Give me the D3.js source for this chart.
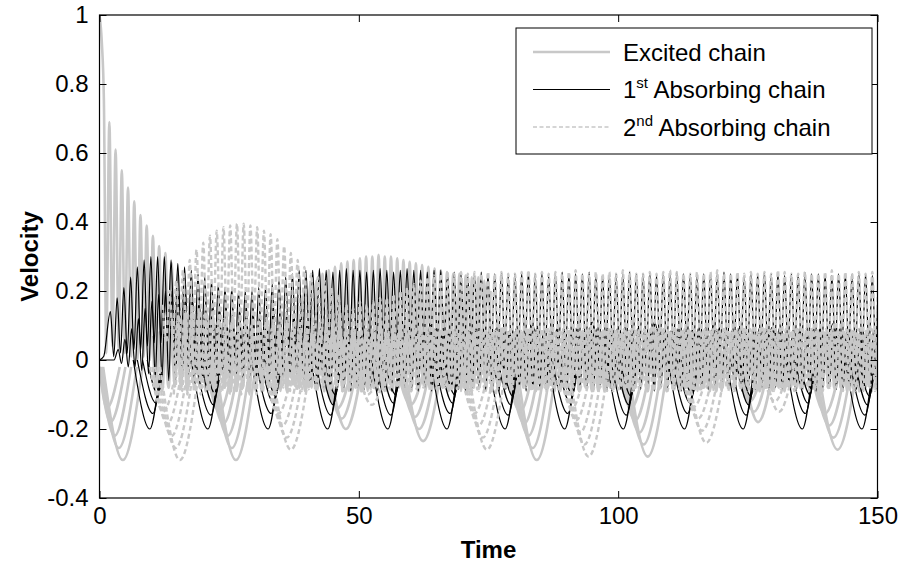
<!DOCTYPE html>
<html>
<head>
<meta charset="utf-8">
<script src="https://cdn.jsdelivr.net/npm/d3@7"></script>
<style>
body { margin: 0; background: #fff; }
svg text { font-family: Arial, "Liberation Sans", Helvetica, sans-serif; fill: #000; }
</style>
</head>
<body>
<svg id="chart" width="902" height="569"></svg>
<script>
// =========
// Data
// =========

var x_domain = [0, 150];
var y_domain = [-0.4, 1];
var x_ticks = [0, 50, 100, 150];
var y_ticks = [-0.4, -0.2, 0, 0.2, 0.4, 0.6, 0.8, 1];
var legend_labels = [['Excited chain', '', ''], ['1', 'st', ' Absorbing chain'], ['2', 'nd', ' Absorbing chain']];

// fast oscillations: turning points, start time t0, spacing dt

// excited chain, driven mass
var ex_a_head = [[0, 1.0], [0.45, 0.92], [0.85, 0.75]];
var ex_a_t0 = 1.3, ex_a_dt = 0.6;
var ex_a = [
 .02,.69,.04,.61,.03,.55,.02,.50,.01,.46,
 0,.42,.01,.39,0,.36,-.01,.33,0,.31,
 .01,.28,0,.25,-.02,.22,-.03,.19,-.04,.16,
 -.05,.14,-.06,.12,-.07,.10,-.07,.09,-.08,.08,
 -.08,.08,-.09,.07,-.08,.08,-.10,.07,-.09,.08,
 -.09,.06,-.08,.07,-.10,.08,-.09,.07,-.08,.08,
 -.07,.09,-.08,.08,-.09,.07,-.08,.06,-.07,.08,
 -.08,.09,-.07,.08,-.06,.07,-.08,.08,-.09,.07,
 -.08,.06,-.07,.08,-.09,.09,-.08,.07,-.07,.08,
 -.09,.08,-.08,.07,-.07,.06,-.08,.08,-.09,.09,
 -.08,.07,-.07,.08,-.08,.09,-.09,.08,-.07,.07,
 -.06,.08,-.08,.09,-.09,.07,-.08,.06,-.07,.08,
 -.08,.08,-.09,.07,-.08,.08,-.07,.09,-.08,.07,
 -.09,.06,-.08,.08,-.07,.07,-.08,.08,-.09,.09,
 -.07,.08,-.06,.07,-.08,.09,-.09,.08,-.08,.06,
 -.08,.07,-.09,.08,-.07,.08,-.08,.07,-.09,.08,
 -.09,.09,-.08,.06,-.07,.08,-.08,.09,-.06,.07,
 -.08,.08,-.07,.07,-.09,.08,-.08,.06,-.08,.09,
 -.07,.07,-.08,.09,-.09,.07,-.07,.08,-.08,.08,
 -.09,.08,-.08,.07,-.06,.08,-.09,.09,-.08,.07,
 -.08,.06,-.09,.08,-.08,.09,-.07,.07,-.08,.08,
 -.07,.08,-.08,.07,-.09,.06,-.08,.08,-.07,.09,
 -.08,.09,-.07,.08,-.08,.07,-.09,.08,-.08,.06,
 -.09,.07,-.08,.08,-.07,.09,-.08,.07,-.09,.08,
 -.08,.08,-.07,.06,-.08,.08,-.09,.07,-.08,.09
];

// excited chain, other masses (band round zero)
var ex_band_t0 = 10.3, ex_band_dt = 0.6;
var ex_band = [
 .07,-.08,.08,-.09,.07,-.08,.09,-.07,.08,-.08,
 .06,-.09,.08,-.07,.07,-.08,.08,-.09,.09,-.08,
 .08,-.07,.07,-.08,.09,-.09,.08,-.08,.07,-.06,
 .08,-.08,.09,-.07,.08,-.09,.07,-.08,.06,-.07,
 .09,-.08,.07,-.09,.08,-.07,.08,-.08,.09,-.09,
 .07,-.07,.08,-.08,.06,-.09,.08,-.08,.07,-.08,
 .08,-.09,.09,-.08,.07,-.07,.08,-.09,.08,-.08,
 .07,-.08,.06,-.07,.08,-.08,.09,-.09,.07,-.08,
 .08,-.07,.08,-.09,.07,-.08,.08,-.07,.09,-.08,
 .09,-.08,.07,-.08,.08,-.09,.06,-.08,.08,-.07,
 .08,-.09,.08,-.08,.09,-.07,.07,-.08,.08,-.09,
 .07,-.08,.09,-.08,.08,-.09,.08,-.07,.07,-.08,
 .08,-.07,.07,-.09,.09,-.08,.08,-.08,.06,-.09,
 .09,-.08,.08,-.07,.07,-.08,.09,-.09,.08,-.08,
 .07,-.09,.08,-.08,.08,-.07,.07,-.08,.09,-.08,
 .08,-.08,.06,-.09,.08,-.08,.09,-.07,.08,-.09,
 .09,-.07,.08,-.08,.07,-.09,.08,-.08,.07,-.08,
 .08,-.08,.09,-.09,.08,-.07,.07,-.08,.08,-.09,
 .07,-.09,.08,-.08,.09,-.08,.08,-.07,.09,-.08,
 .08,-.08,.07,-.07,.08,-.09,.09,-.08,.07,-.08,
 .09,-.07,.08,-.09,.07,-.08,.08,-.08,.08,-.07,
 .08,-.08,.09,-.08,.08,-.09,.07,-.07,.09,-.08,
 .07,-.08,.08,-.07,.09,-.08,.08,-.09,.08,-.08,
 .08,-.09,.07,-.08,.08,-.08,.09,-.07,.07,-.08
];

// excited chain, hump round t = 55
var ex_hump_t0 = 38.2, ex_hump_dt = 0.6;
var ex_hump = [
 .18,-.03,.20,-.03,.22,-.02,.23,-.03,.25,-.02,
 .26,-.02,.27,-.03,.28,-.02,.285,-.02,.29,-.03,
 .295,-.02,.30,-.02,.30,-.03,.305,-.02,.30,-.02,
 .30,-.03,.295,-.02,.29,-.03,.285,-.02,.28,-.03,
 .275,-.02,.27,-.03,.265,-.02,.26,-.03,.255,-.02,
 .25,-.03,.25,-.02,.245,-.03,.24,-.02,.24,-.03,
 .23,-.02,.20
];

// 1st absorbing chain, top envelope
var abs1_top_head = [[0, 0], [0.8, 0.01]];
var abs1_top_t0 = 2.1, abs1_top_dt = 0.65;
var abs1_top = [
 .14,.01,.18,.02,.21,.02,.24,.03,.27,.03,
 .29,.04,.30,.05,.30,.05,.30,.06,.29,.05,
 .28,.04,.27,.04,.26,.03,.25,.02,.24,.02,
 .23,.01,.22,.01,.21,0,.21,0,.20,.01,
 .20,.01,.20,0,.21,.01,.21,.01,.22,.02,
 .23,.03,.24,.04,.25,.04,.26,.05,.26,.05,
 .26,.05,.265,.04,.26,.06,.255,.05,.26,.05,
 .265,.04,.26,.05,.26,.06,.255,.05,.26,.04,
 .265,.05,.26,.05,.255,.06,.26,.05,.265,.05,
 .26,.04,.26,.05,.255,.05,.26,.06,.26,.05,
 .25,.03,.255,.02,.25,.03,.245,.04,.25,.03,
 .255,.03,.25,.02,.25,.03,.255,.03,.245,.02,
 .25,.03,.25,.04,.255,.03,.25,.02,.25,.03,
 .245,.03,.25,.03,.255,.02,.25,.03,.25,.04,
 .25,.02,.255,.03,.25,.03,.245,.03,.25,.02,
 .25,.03,.25,.03,.255,.04,.25,.03,.25,.02,
 .255,.03,.245,.03,.25,.02,.25,.03,.255,.03,
 .25,.04,.25,.03,.245,.03,.25,.02,.25,.03,
 .25,.03,.255,.03,.25,.04,.25,.03,.245,.02,
 .25,.03,.25,.02,.255,.03,.25,.03,.25,.04,
 .245,.03,.25,.03,.25,.02,.255,.03,.25,.03,
 .25,.02,.25,.03,.245,.03,.25,.04,.25,.03,
 .25,.03,.255,.02,.25,.03,.245,.03,.25,.02
];

// 1st absorbing chain, inner masses
var abs1_mid_head = [[0, 0], [2.8, 0]];
var abs1_mid_t0 = 3.6, abs1_mid_dt = 0.65;
var abs1_mid = [
 .03,-.01,.06,-.02,.09,-.02,.12,-.03,.15,-.04,
 .17,-.05,.19,-.05,.20,-.06,.20,-.06,.19,-.05,
 .19,-.05,.18,-.04,.18,-.05,.17,-.04,.17,-.05,
 .16,-.04,.16,-.05,.15,-.05,.15,-.06,.16,-.05,
 .15,-.05,.14,-.04,.15,-.05,.16,-.06,.15,-.05,
 .14,-.04,.13,-.05,.12,-.06,.11,-.07,.10,-.07,
 .09,-.08,.085,-.08,.09,-.085,.08,-.08,.085,-.09,
 .09,-.08,.08,-.085,.085,-.08,.09,-.09,.08,-.08,
 .085,-.09,.09,-.08,.08,-.08,.085,-.085,.09,-.09,
 .08,-.08,.085,-.09,.09,-.085,.08,-.08,.085,-.08,
 .09,-.085,.08,-.09,.085,-.08,.09,-.08,.08,-.085,
 .085,-.08,.09,-.09,.08,-.085,.085,-.09,.09,-.08,
 .08,-.09,.085,-.08,.09,-.08,.08,-.085,.085,-.09,
 .09,-.08,.08,-.085,.085,-.09,.09,-.08,.08,-.08,
 .085,-.085,.09,-.08,.08,-.09,.085,-.08,.09,-.085,
 .08,-.08,.085,-.09,.09,-.085,.08,-.08,.085,-.09,
 .09,-.08,.08,-.08,.085,-.085,.09,-.09,.08,-.08,
 .085,-.09,.09,-.08,.08,-.085,.085,-.08,.09,-.09,
 .08,-.085,.085,-.08,.09,-.09,.08,-.08,.085,-.085,
 .09,-.08,.08,-.09,.085,-.08,.09,-.085,.08,-.08,
 .085,-.09,.09,-.085,.08,-.08,.085,-.09,.09,-.08,
 .08,-.08,.085,-.085,.09,-.09,.08,-.08,.085,-.085,
 .09,-.09,.08,-.08,.085,-.085,.09,-.08,.08,-.09
];

// 2nd absorbing chain, hump near t = 27
var abs2_hump_t0 = 12.2, abs2_hump_dt = 0.65;
var abs2_hump = [
 .16,.05,.20,.06,.23,.06,.26,.07,.29,.07,
 .32,.08,.34,.08,.36,.09,.375,.09,.385,.10,
 .39,.10,.395,.10,.395,.10,.39,.10,.385,.09,
 .375,.09,.365,.08,.35,.08,.33,.07,.31,.07,
 .29,.06,.27,.06,.25,.05,.24,.05,.23,.04,
 .21,.03,.19,.03
];

// 2nd absorbing chain, top envelope after the hump
var abs2_top_t0 = 45.0, abs2_top_dt = 0.65;
var abs2_top = [
 .16,0,.15,.01,.16,0,.15,.01,.17,0,
 .16,.01,.17,0,.18,.01,.18,0,.19,.01,
 .20,.01,.21,.02,.22,.02,.23,.02,.24,.02,
 .245,.03,.25,.02,.255,.03,.25,.02,.255,.03,
 .25,.02,.255,.03,.25,.02,.255,.02,.25,.03,
 .255,.02,.25,.02,.25,.03,.255,.02,.26,.02,
 .25,.03,.255,.02,.25,.02,.255,.03,.25,.02,
 .255,.02,.26,.03,.25,.02,.25,.02,.255,.03,
 .25,.02,.255,.02,.25,.03,.26,.02,.255,.02,
 .25,.03,.25,.02,.255,.02,.25,.03,.255,.02,
 .26,.02,.255,.03,.25,.02,.25,.02,.255,.03,
 .25,.02,.255,.02,.26,.03,.25,.02,.25,.02,
 .255,.03,.25,.02,.255,.02,.25,.03,.255,.02,
 .25,.02,.26,.02,.255,.03,.25,.02,.25,.03,
 .255,.02,.25,.03,.25,.02,.255,.02,.26,.03,
 .25,.02,.255,.02,.25,.03,.255,.02,.25,.02,
 .255,.03,.25,.02,.255,.02,.25,.03,.255,.02
];

// 2nd absorbing chain, band round zero
var abs2_band_a_t0 = 14.0, abs2_band_a_dt = 0.65;
var abs2_band_a = [
 .12,-.08,.13,-.09,.14,-.08,.15,-.09,.14,-.08,
 .15,-.09,.14,-.08,.13,-.09,.14,-.10,.13,-.09,
 .12,-.08,.13,-.09,.12,-.10,.11,-.09,.12,-.08,
 .11,-.09,.10,-.08,.11,-.09,.10,-.09,.09,-.08,
 .09,-.08,.08,-.09,.09,-.08,.085,-.09,.08,-.08,
 .09,-.09,.08,-.08,.085,-.09,.09,-.08,.08,-.09,
 .085,-.08,.09,-.09,.08,-.085,.09,-.08,.085,-.09,
 .08,-.09,.09,-.08,.085,-.08,.08,-.09,.09,-.085,
 .09,-.08,.085,-.09,.08,-.08,.09,-.085,.08,-.09,
 .085,-.09,.08,-.08,.09,-.09,.085,-.08,.09,-.08,
 .08,-.085,.09,-.09,.08,-.08,.085,-.09,.08,-.085,
 .09,-.09,.085,-.08,.08,-.09,.09,-.085,.085,-.08,
 .08,-.08,.09,-.085,.085,-.09,.08,-.08,.09,-.09,
 .085,-.09,.08,-.08,.09,-.085,.085,-.09,.08,-.08,
 .09,-.085,.085,-.09,.08,-.08,.09,-.09,.085,-.085,
 .08,-.09,.09,-.08,.085,-.085,.08,-.09,.09,-.08,
 .085,-.08,.08,-.09,.09,-.09,.085,-.08,.08,-.085,
 .09,-.09,.085,-.085,.08,-.08,.09,-.09,.085,-.08,
 .08,-.085,.09,-.08,.085,-.09,.08,-.085,.09,-.09,
 .085,-.08,.08,-.09,.09,-.085,.085,-.08,.08,-.09,
 .09,-.09,.085,-.08,.08,-.09,.09,-.08,.085,-.085,
 .08,-.08,.09,-.09,.085,-.085,.08,-.09,.09,-.08
];

var abs2_band_b_t0 = 14.33, abs2_band_b_dt = 0.65;
var abs2_band_b = [
 -.10,.11,-.09,.12,-.10,.13,-.09,.12,-.10,.13,
 -.09,.12,-.10,.11,-.09,.12,-.08,.11,-.09,.10,
 -.10,.11,-.09,.10,-.08,.11,-.09,.10,-.08,.09,
 -.09,.10,-.08,.09,-.09,.085,-.08,.09,-.09,.08,
 -.085,.09,-.09,.08,-.08,.085,-.09,.09,-.08,.08,
 -.09,.085,-.08,.09,-.085,.08,-.09,.09,-.08,.085,
 -.08,.09,-.09,.08,-.085,.085,-.08,.09,-.09,.08,
 -.09,.08,-.085,.09,-.08,.085,-.09,.08,-.085,.09,
 -.08,.085,-.09,.09,-.085,.08,-.08,.09,-.09,.085,
 -.085,.09,-.08,.08,-.09,.085,-.085,.09,-.08,.08,
 -.09,.08,-.085,.085,-.08,.09,-.09,.08,-.085,.09,
 -.08,.09,-.09,.085,-.085,.08,-.08,.09,-.09,.085,
 -.085,.085,-.08,.09,-.09,.08,-.085,.085,-.08,.09,
 -.09,.09,-.085,.08,-.08,.085,-.09,.09,-.085,.08,
 -.08,.08,-.09,.09,-.085,.085,-.08,.08,-.09,.09,
 -.085,.09,-.08,.085,-.09,.08,-.085,.09,-.08,.085,
 -.09,.085,-.085,.09,-.08,.08,-.09,.085,-.085,.09,
 -.08,.09,-.09,.08,-.085,.09,-.08,.085,-.09,.08,
 -.085,.08,-.08,.085,-.09,.09,-.085,.08,-.08,.09,
 -.09,.09,-.085,.08,-.08,.085,-.09,.09,-.085,.085,
 -.08,.085,-.09,.09,-.085,.08,-.08,.09,-.09,.08,
 -.085,.09,-.08,.085,-.09,.085,-.085,.08,-.08,.09
];

// slow dips below the band: [t start, t of minimum, minimum, t end]
var ex_dip_edge = [-0.02, -0.02];
var ex_dips = [
 [0.7,4.5,-.29,8.3],[0.4,3.7,-.255,7.2],[0.1,2.9,-.22,6.1],[0,2.1,-.18,5.0],[0,1.4,-.14,3.9],
 [22.5,26.3,-.29,30.1],[22.0,25.5,-.255,29.0],[21.5,24.7,-.22,27.9],[21.0,23.9,-.185,26.8],[20.5,23.1,-.15,25.7],
 [44.3,47.5,-.20,50.7],[43.7,46.7,-.17,49.7],[43.1,45.9,-.14,48.7],
 [58.8,62.4,-.235,66.0],[58.3,61.6,-.20,64.9],[57.8,60.8,-.165,63.8],[57.3,60.0,-.13,62.7],
 [80.5,84.3,-.29,88.1],[80.0,83.5,-.255,87.0],[79.5,82.7,-.22,85.9],[79.0,81.9,-.185,84.8],[78.5,81.1,-.15,83.7],
 [101.9,105.7,-.28,109.5],[101.4,104.9,-.245,108.4],[100.9,104.1,-.21,107.3],[100.4,103.3,-.175,106.2],[99.9,102.5,-.14,105.1],
 [124.0,127.0,-.18,130.0],[123.4,126.2,-.15,129.0],[122.8,125.4,-.12,128.0],
 [138.5,142.3,-.26,146.1],[138.0,141.5,-.225,145.0],[137.5,140.7,-.19,143.9],[137.0,139.9,-.155,142.8]
];

var abs1_dip_edge = [0.0, -0.04];
var abs1_dips = [
 [6.5,9.7,-.20,11.6],[7.3,10.3,-.155,11.8],[8.3,10.9,-.125,12.0],[9.2,11.3,-.10,12.1],
 [17.7,20.9,-.20,22.8],[18.5,21.5,-.16,23.0],[19.5,22.0,-.13,23.1],[20.3,22.4,-.10,23.2],
 [29.3,32.5,-.20,34.4],[30.1,33.1,-.155,34.6],[31.1,33.6,-.125,34.7],[31.9,34.0,-.105,34.8],
 [40.8,44.0,-.20,45.9],[41.6,44.6,-.16,46.0],[42.6,45.1,-.13,46.2],[43.4,45.5,-.10,46.3],
 [52.4,55.6,-.20,57.5],[53.2,56.2,-.16,57.7],[54.2,56.7,-.125,57.8],[55.0,57.1,-.10,57.9],
 [63.8,67.0,-.20,68.9],[64.6,67.6,-.155,69.1],[65.6,68.1,-.125,69.2],[66.4,68.5,-.10,69.3],
 [75.0,78.2,-.20,80.1],[75.8,78.8,-.16,80.3],[76.8,79.3,-.13,80.4],[77.6,79.7,-.105,80.5],
 [86.5,89.7,-.20,91.6],[87.3,90.3,-.155,91.8],[88.3,90.8,-.125,91.9],[89.1,91.2,-.10,92.0],
 [97.8,101.0,-.20,102.9],[98.6,101.6,-.16,103.1],[99.6,102.1,-.13,103.2],[100.4,102.5,-.105,103.3],
 [109.6,112.8,-.20,114.7],[110.4,113.4,-.155,114.9],[111.4,113.9,-.125,115.0],[112.2,114.3,-.10,115.1],
 [120.9,124.1,-.20,126.0],[121.7,124.7,-.16,126.2],[122.7,125.2,-.13,126.3],[123.5,125.6,-.105,126.4],
 [132.3,135.5,-.20,137.4],[133.1,136.1,-.155,137.6],[134.1,136.6,-.125,137.7],[134.9,137.0,-.10,137.8],
 [143.8,147.0,-.20,148.9],[144.6,147.6,-.16,149.1],[145.6,148.1,-.13,149.2],[146.4,148.5,-.105,149.3]
];

// small peaks of the 1st absorbing chain just above the band
var abs1_bump_edge = [0.04, 0.04];
var abs1_bumps = [
 [62.8,63.8,.10,64.8],[82.5,83.5,.10,84.5],[94.0,95.0,.11,96.0],[106.0,107.0,.11,108.0],
 [117.5,118.5,.10,119.5],[128.7,129.7,.095,130.7],[140.4,141.4,.105,142.4]
];

var abs2_dip_edge = [-0.02, -0.02];
var abs2_dips = [
 [11.7,15.5,-.29,19.3],[11.2,14.7,-.255,18.2],[10.7,13.9,-.22,17.1],[10.2,13.1,-.185,16.0],[9.7,12.3,-.15,14.9],
 [33.2,36.9,-.26,40.6],[32.7,36.1,-.225,39.5],[32.2,35.3,-.19,38.4],[31.7,34.5,-.155,37.3],
 [49.6,52.5,-.13,55.4],[49.0,51.7,-.10,54.4],
 [71.0,74.7,-.26,78.4],[70.5,73.9,-.225,77.3],[70.0,73.1,-.19,76.2],[69.5,72.3,-.155,75.1],
 [90.5,94.3,-.28,98.1],[90.0,93.5,-.245,97.0],[89.5,92.7,-.21,95.9],[89.0,91.9,-.175,94.8],[88.5,91.1,-.14,93.7],
 [113.3,117.0,-.24,120.7],[112.8,116.2,-.205,119.6],[112.3,115.4,-.17,118.5],[111.8,114.6,-.135,117.4],
 [128.1,131.0,-.15,133.9],[127.5,130.2,-.12,132.9]
];

// =========
// Chart
// =========

var plot = {left: 99.5, right: 877.5, top: 15, bottom: 498};
var grey = '#c8c8c8';

var svg = d3.select('#chart');

var x_scale = d3.scaleLinear().domain(x_domain).range([plot.left, plot.right]);
var y_scale = d3.scaleLinear().domain(y_domain).range([plot.bottom, plot.top]);

svg.append('defs').append('clipPath')
    .attr('id', 'plot-clip')
    .append('rect')
    .attr('x', plot.left).attr('y', plot.top)
    .attr('width', plot.right - plot.left)
    .attr('height', plot.bottom - plot.top);

var plot_area = svg.append('g').attr('clip-path', 'url(#plot-clip)');

var line = d3.line()
    .x(function(d){ return x_scale(d[0]); })
    .y(function(d){ return y_scale(d[1]); })
    .curve(d3.curveMonotoneX);

function fast_points(head, t0, dt, values){
    var pts = head.slice();
    values.forEach(function(v, i){ pts.push([t0 + i * dt, v]); });
    return pts;
}

function dip_points(d, edge){
    return [[d[0], edge[0]], [d[1], d[2]], [d[3], edge[1]]];
}

function draw_line(pts, style){
    var p = plot_area.append('path')
        .attr('d', line(pts))
        .attr('fill', 'none')
        .attr('stroke', style.color)
        .attr('stroke-width', style.width)
        .attr('stroke-linejoin', 'round');
    if(style.dash) p.attr('stroke-dasharray', style.dash);
}

var style_ex = {color: grey, width: 2.6};
var style_ex_band = {color: grey, width: 3.0};
var style_abs1 = {color: '#000', width: 1.2};
var style_abs2 = {color: grey, width: 2.4, dash: '5,3'};

// excited chain first, then 1st absorbing chain, then 2nd absorbing chain on top
draw_line(fast_points([], ex_band_t0, ex_band_dt, ex_band), style_ex_band);
draw_line(fast_points(ex_a_head, ex_a_t0, ex_a_dt, ex_a), style_ex);
draw_line(fast_points([], ex_hump_t0, ex_hump_dt, ex_hump), style_ex);
ex_dips.forEach(function(d){ draw_line(dip_points(d, ex_dip_edge), style_ex); });

draw_line(fast_points(abs1_mid_head, abs1_mid_t0, abs1_mid_dt, abs1_mid), style_abs1);
draw_line(fast_points(abs1_top_head, abs1_top_t0, abs1_top_dt, abs1_top), style_abs1);
abs1_dips.forEach(function(d){ draw_line(dip_points(d, abs1_dip_edge), style_abs1); });
abs1_bumps.forEach(function(d){ draw_line(dip_points(d, abs1_bump_edge), style_abs1); });

draw_line(fast_points([], abs2_band_a_t0, abs2_band_a_dt, abs2_band_a), style_abs2);
draw_line(fast_points([], abs2_band_b_t0, abs2_band_b_dt, abs2_band_b), style_abs2);
draw_line(fast_points([], abs2_hump_t0, abs2_hump_dt, abs2_hump), style_abs2);
draw_line(fast_points([], abs2_top_t0, abs2_top_dt, abs2_top), style_abs2);
abs2_dips.forEach(function(d){ draw_line(dip_points(d, abs2_dip_edge), style_abs2); });

// =========
// Axes
// =========

function tick_format(t){
    return String(+t.toFixed(1));
}

var font_size = '24px';

var x_axis = svg.append('g')
    .attr('transform', 'translate(0,' + plot.bottom + ')')
    .call(d3.axisBottom(x_scale).tickValues(x_ticks).tickSize(-7).tickPadding(9).tickFormat(tick_format));
var y_axis = svg.append('g')
    .attr('transform', 'translate(' + plot.left + ',0)')
    .call(d3.axisLeft(y_scale).tickValues(y_ticks).tickSize(-7).tickPadding(11).tickFormat(tick_format));
var x_axis_top = svg.append('g')
    .attr('transform', 'translate(0,' + plot.top + ')')
    .call(d3.axisTop(x_scale).tickValues(x_ticks).tickSize(-7).tickFormat(''));
var y_axis_right = svg.append('g')
    .attr('transform', 'translate(' + plot.right + ',0)')
    .call(d3.axisRight(y_scale).tickValues(y_ticks).tickSize(-7).tickFormat(''));

[x_axis, y_axis, x_axis_top, y_axis_right].forEach(function(a){
    a.select('.domain').remove();
    a.selectAll('line').attr('stroke', '#000').attr('stroke-width', 1);
    a.selectAll('text').attr('font-family', null).style('font-size', font_size).attr('fill', '#000');
});

svg.append('rect')
    .attr('x', plot.left).attr('y', plot.top)
    .attr('width', plot.right - plot.left)
    .attr('height', plot.bottom - plot.top)
    .attr('fill', 'none')
    .attr('stroke', '#000')
    .attr('stroke-width', 1.2);

svg.append('text')
    .attr('transform', 'translate(30,' + ((plot.top + plot.bottom) / 2) + ') rotate(-90)')
    .attr('text-anchor', 'middle')
    .attr('dy', '0.35em')
    .style('font-size', font_size)
    .style('font-weight', 'bold')
    .text('Velocity');

svg.append('text')
    .attr('x', (plot.left + plot.right) / 2)
    .attr('y', 558)
    .attr('text-anchor', 'middle')
    .style('font-size', font_size)
    .style('font-weight', 'bold')
    .text('Time');

// =========
// Legend
// =========

var legend = svg.append('g');
legend.append('rect')
    .attr('x', 516).attr('y', 28)
    .attr('width', 356).attr('height', 126)
    .attr('fill', '#fff')
    .attr('stroke', '#000')
    .attr('stroke-width', 1);

var legend_styles = [
    {color: grey, width: 2.6},
    {color: '#000', width: 1.2},
    {color: grey, width: 1.6, dash: '4,2.5'}
];

legend_labels.forEach(function(lab, i){
    var ly = 52 + i * 37.5;
    var l = legend.append('line')
        .attr('x1', 533).attr('x2', 610)
        .attr('y1', ly).attr('y2', ly)
        .attr('stroke', legend_styles[i].color)
        .attr('stroke-width', legend_styles[i].width);
    if(legend_styles[i].dash) l.attr('stroke-dasharray', legend_styles[i].dash);

    var t = legend.append('text')
        .attr('x', 623).attr('y', ly + 8.5)
        .style('font-size', font_size);
    t.append('tspan').text(lab[0]);
    if(lab[1]){
        t.append('tspan').attr('dy', -10).style('font-size', '15px').text(lab[1]);
        t.append('tspan').attr('dy', 10).text(lab[2]);
    }
});
</script>
</body>
</html>
